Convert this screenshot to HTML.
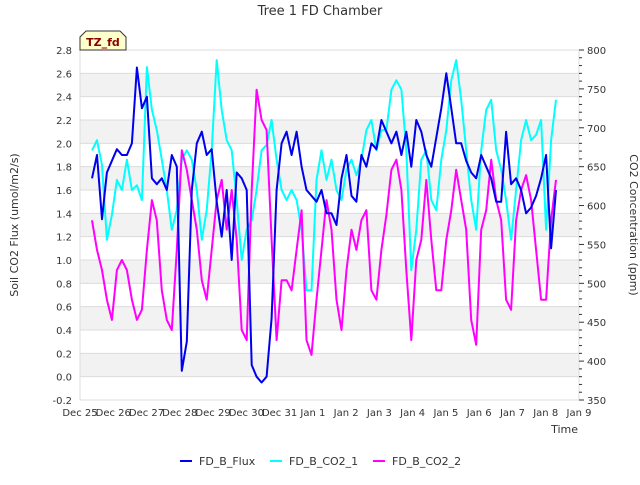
<!DOCTYPE html>
<html><head><meta charset="utf-8"><style>
body{margin:0;background:#fff}
svg{font-family:"DejaVu Sans","Liberation Sans",sans-serif}
</style></head><body>
<svg width="640" height="480" viewBox="0 0 640 480">
<g id="bg"></g><g id="grid"></g><g id="series"></g><g id="axes"></g>
<text x="320" y="15" text-anchor="middle" font-size="13" fill="#333">Tree 1 FD Chamber</text>
<text transform="translate(18,225) rotate(-90)" text-anchor="middle" font-size="11" fill="#333">Soil CO2 Flux (umol/m2/s)</text>
<text transform="translate(630,225) rotate(90)" text-anchor="middle" font-size="11" fill="#333">CO2 Concentration (ppm)</text>
<text x="578" y="433" text-anchor="end" font-size="11" fill="#333">Time</text>
<g>
<path d="M80,50 L80,37 L86,31 L120,31 L126,37 L126,50 Z" fill="#ffffcc" stroke="#333" stroke-width="1"/>
<text x="103" y="46" text-anchor="middle" font-size="11" font-weight="bold" fill="#8b0000">TZ_fd</text>
</g>
<g>
<g><line x1="180" y1="461" x2="192" y2="461" stroke="#0000ee" stroke-width="2"/><text x="199" y="465" font-size="11" fill="#333">FD_B_Flux</text></g>
<g><line x1="270" y1="461" x2="282" y2="461" stroke="cyan" stroke-width="2"/><text x="289" y="465" font-size="11" fill="#333">FD_B_CO2_1</text></g>
<g><line x1="373" y1="461" x2="385" y2="461" stroke="magenta" stroke-width="2"/><text x="392" y="465" font-size="11" fill="#333">FD_B_CO2_2</text></g>
</g>
</svg>
<script>
const xLabels=["Dec 25","Dec 26","Dec 27","Dec 28","Dec 29","Dec 30","Dec 31","Jan 1","Jan 2","Jan 3","Jan 4","Jan 5","Jan 6","Jan 7","Jan 8","Jan 9"];
const leftTicks=[-0.2,0,0.2,0.4,0.6,0.8,1.0,1.2,1.4,1.6,1.8,2.0,2.2,2.4,2.6,2.8];
const rightTicks=[350,400,450,500,550,600,650,700,750,800];
const tStart=0.36, tStep=0.15;
const flux=[1.7,1.9,1.35,1.75,1.85,1.95,1.9,1.9,2.0,2.65,2.3,2.4,1.7,1.65,1.7,1.6,1.9,1.8,0.05,0.3,1.6,2.0,2.1,1.9,1.95,1.5,1.2,1.6,1.0,1.75,1.7,1.6,0.1,0.0,-0.05,0.0,0.5,1.6,2.0,2.1,1.9,2.1,1.8,1.6,1.55,1.5,1.6,1.4,1.4,1.3,1.7,1.9,1.55,1.5,1.9,1.8,2.0,1.95,2.2,2.1,2.0,2.1,1.9,2.1,1.8,2.2,2.1,1.9,1.8,2.05,2.3,2.6,2.3,2.0,2.0,1.85,1.75,1.7,1.9,1.8,1.7,1.5,1.5,2.1,1.65,1.7,1.6,1.4,1.45,1.55,1.7,1.9,1.1,1.6];
const co2a=[671,684,652,556,588,633,620,659,620,626,607,778,723,697,659,620,569,594,659,671,659,620,556,594,671,787,723,684,671,607,530,569,581,620,671,678,710,659,620,607,620,607,569,491,491,633,671,633,659,620,607,646,659,639,659,697,710,671,697,697,749,761,749,671,517,569,659,671,607,594,659,697,761,787,736,671,607,569,671,723,736,671,646,607,556,620,684,710,684,691,710,569,684,736];
const co2b=[581,543,517,479,453,517,530,517,479,453,466,543,607,581,491,453,440,543,671,646,607,569,504,479,543,607,633,569,620,556,440,427,620,749,710,697,556,427,504,504,491,543,594,427,408,479,543,607,569,479,440,517,569,543,581,594,491,479,543,588,646,659,620,517,427,530,556,633,556,491,491,556,594,646,607,569,453,421,569,594,659,607,581,479,466,581,620,639,607,543,479,479,581,633];
const NS="http://www.w3.org/2000/svg";
const X0=80,X1=579,Y0=50,Y1=400;
const xs=t=>X0+(X1-X0)*t/15;
const yL=v=>Y1-(v+0.2)/3.0*(Y1-Y0);
const yR=v=>Y1-(v-350)/450*(Y1-Y0);
function mk(tag,attrs,parent){const e=document.createElementNS(NS,tag);for(const k in attrs)e.setAttribute(k,attrs[k]);document.getElementById(parent).appendChild(e);return e;}
// bands
for(let i=0;i<leftTicks.length-1;i++){
 if(i%2===1){const r=mk('rect',{x:X0,y:yL(leftTicks[i+1]),width:X1-X0,height:yL(leftTicks[i])-yL(leftTicks[i+1]),fill:'#f2f2f2'},'bg');
 
 }
}
leftTicks.forEach(v=>{const l=mk('line',{x1:X0,x2:X1,y1:yL(v),y2:yL(v),stroke:'#dcdcdc','stroke-width':1},'grid');
 
 
 const t=mk('text',{x:X0-8,y:yL(v)+4,'text-anchor':'end','font-size':10,fill:'#333'},'axes');t.textContent=v.toFixed(1);
 
 });
mk('line',{x1:X0,x2:X0,y1:Y0,y2:Y1,stroke:'#dcdcdc'},'grid');
mk('line',{x1:X1,x2:X1,y1:Y0,y2:Y1,stroke:'#dcdcdc'},'grid');
for(let v=350;v<=800;v+=10){mk('line',{x1:X1,x2:X1+(v%50===0?5:3),y1:yR(v),y2:yR(v),stroke:'#333'},'axes');}
rightTicks.forEach(v=>{const t=mk('text',{x:X1+8,y:yR(v)+4,'font-size':10,fill:'#333'},'axes');t.textContent=v;
 
 });
xLabels.forEach((s,i)=>{const t=mk('text',{x:xs(i),y:416,'text-anchor':'middle','font-size':10,fill:'#333'},'axes');t.textContent=s;
 
 });
function series(arr,yf,color,name){const d=arr.map((v,i)=>(i?'L':'M')+xs(tStart+i*tStep).toFixed(1)+','+yf(v).toFixed(1)).join('');
 const p=mk('path',{d:d,fill:'none',stroke:color,'stroke-width':2,'stroke-linejoin':'round'},'series');
 
 }
series(co2a,yR,'cyan','series-co2-1');
series(co2b,yR,'magenta','series-co2-2');
series(flux,yL,'#0000ee','series-flux');
</script>
</body></html>
